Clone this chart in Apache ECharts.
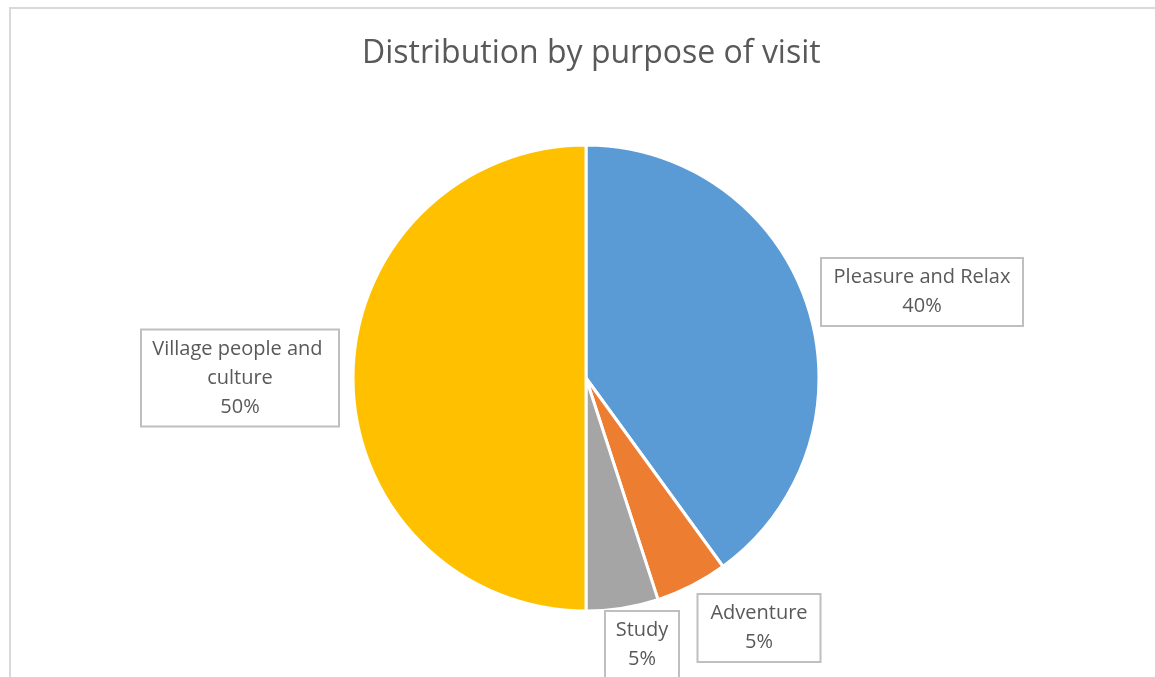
<!DOCTYPE html>
<html>
<head>
<meta charset="utf-8">
<title>Distribution by purpose of visit</title>
<script src="https://cdn.jsdelivr.net/npm/echarts@6/dist/echarts.min.js"></script>
<style>
  html, body { margin: 0; padding: 0; background: #ffffff; }
  #chart { width: 1155px; height: 677px; }
</style>
</head>
<body>
<div id="chart"></div>
<script>
// Purposes of visit and their shares (%)
const categories = ['Pleasure and Relax', 'Adventure', 'Study', 'Village people and culture'];
const shares = [40, 5, 5, 50];
const colors = ['#5B9BD5', '#ED7D31', '#A5A5A5', '#FFC000'];

// Where each data label box sits (centre point) and how wide its text area is
const labelCentres = [[922, 292], [759, 628], [642, 645], [240, 378]];
const labelWidths = [180, 101, 54, 180];
const labelPads = [[4, 10, 4, 10], [4, 10, 4, 10], [4, 9, 4, 9], [4, 8, 4, 8]];

const FONT = '"Open Sans", "Liberation Sans", sans-serif';

const chart = echarts.init(document.getElementById('chart'), null, { renderer: 'canvas' });

const data = categories.map((name, i) => ({
  name: name,
  value: shares[i],
  itemStyle: { color: colors[i] },
  label: { width: labelWidths[i], padding: labelPads[i] }
}));

chart.setOption({
  backgroundColor: '#ffffff',
  animation: false,
  title: {
    text: 'Distribution by purpose of visit',
    left: 357,
    top: 33,
    textStyle: {
      fontFamily: FONT,
      fontSize: 32,
      fontWeight: 'normal',
      color: '#595959'
    }
  },
  graphic: [{
    type: 'rect',
    shape: { x: 10, y: 8, width: 1200, height: 720 },
    style: { fill: 'none', stroke: '#d9d9d9', lineWidth: 2 },
    silent: true
  }],
  series: [{
    type: 'pie',
    center: [586, 378],
    radius: 233,
    startAngle: 90,
    clockwise: true,
    data: data,
    itemStyle: { borderColor: '#ffffff', borderWidth: 3 },
    label: {
      show: true,
      position: 'outside',
      formatter: '{b}\n{d}%',
      fontFamily: FONT,
      fontSize: 20,
      lineHeight: 29,
      color: '#595959',
      align: 'center',
      overflow: 'break',
      backgroundColor: '#ffffff',
      borderColor: '#bfbfbf',
      borderWidth: 2
    },
    labelLine: { show: false },
    labelLayout: function (params) {
      const c = labelCentres[params.dataIndex];
      return {
        x: c[0],
        y: c[1],
        align: 'center',
        verticalAlign: 'middle',
        hideOverlap: false,
        moveOverlap: false
      };
    }
  }]
});
</script>
</body>
</html>
